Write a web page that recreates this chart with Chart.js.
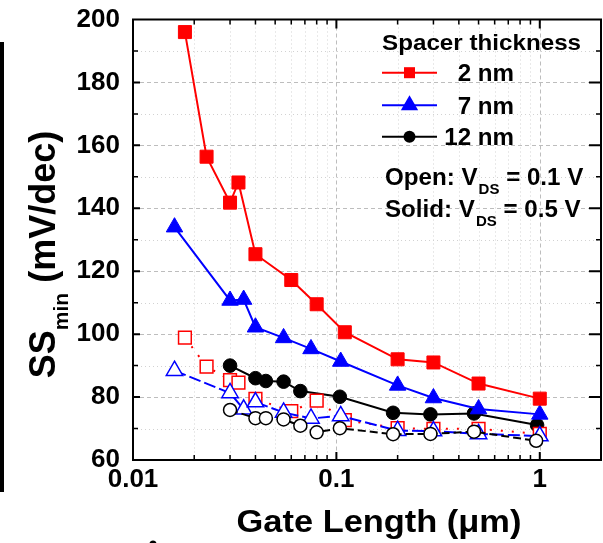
<!DOCTYPE html>
<html>
<head>
<meta charset="utf-8">
<script src="https://cdn.jsdelivr.net/npm/chart.js@4.4.0/dist/chart.umd.min.js"></script>
<style>
  html, body { margin: 0; padding: 0; background: #fff; overflow: hidden; }
  #wrap { position: relative; width: 612px; height: 543px; }
</style>
</head>
<body>
<div id="wrap"><canvas id="ssChart" width="612" height="543"></canvas></div>
<script>
// Gate length (um) and SSmin (mV/dec)

// spacer 2 nm
const len2 = [0.018, 0.023, 0.030, 0.033, 0.040, 0.060, 0.080, 0.110, 0.20, 0.30, 0.50, 1.0];
const ss2Solid = [196, 156.4, 141.8, 148.2, 125.4, 117.2, 109.5, 100.6, 92.0, 91.0, 84.3, 79.5];
const ss2Open = [98.9, 89.7, 85.4, 84.6, 79.4, 75.5, 78.9, 72.7, 70.1, 69.9, 69.9, 68.3];

// spacer 7 nm
const len7 = [0.016, 0.030, 0.035, 0.040, 0.055, 0.075, 0.105, 0.20, 0.30, 0.50, 1.0];
const ss7Solid = [134.0, 110.7, 111.0, 102.2, 98.8, 95.3, 91.3, 83.7, 79.7, 76.2, 74.5];
const ss7Open = [88.4, 81.3, 76.1, 78.4, 75.1, 73.2, 74.0, 69.3, 69.2, 68.3, 67.6];

// spacer 12 nm
const len12Solid = [0.030, 0.040, 0.045, 0.055, 0.0665, 0.104, 0.19, 0.29, 0.475, 0.97];
const ss12Solid = [90.0, 86.0, 85.1, 84.9, 81.9, 80.1, 75.0, 74.5, 74.8, 71.1];
const len12Open = [0.030, 0.040, 0.045, 0.055, 0.0665, 0.080, 0.104, 0.19, 0.29, 0.475, 0.96];
const ss12Open = [75.9, 73.3, 73.3, 72.9, 70.9, 68.8, 70.1, 68.2, 68.3, 69.0, 66.1];

// axes
const xMin = 0.01, xMax = 2;
const yMin = 60, yMax = 200;
const xTickLabels = [0.01, 0.1, 1];
const yTickLabels = [60, 80, 100, 120, 140, 160, 180, 200];

const legendLabels = ["2 nm", "7 nm", "12 nm"];

const FONT = '"Liberation Sans", Arial, sans-serif';
const RED = "#ff0000", BLUE = "#0000ff", BLACK = "#000000";

function pts(xs, ys) {
  return xs.map((x, i) => ({ x: x, y: ys[i] }));
}

function isDecade(v) {
  const l = Math.log10(v);
  return Math.abs(l - Math.round(l)) < 1e-6;
}

// draw text squeezed / stretched horizontally
function wideText(ctx, txt, x, y, size, sx, align) {
  ctx.save();
  ctx.font = "bold " + size + "px " + FONT;
  const w = ctx.measureText(txt).width * sx;
  const x0 = align === "right" ? x - w : align === "center" ? x - w / 2 : x;
  ctx.translate(x0, y);
  ctx.scale(sx, 1);
  ctx.textAlign = "left";
  ctx.textBaseline = "alphabetic";
  ctx.fillStyle = "#000";
  ctx.fillText(txt, 0, 0);
  ctx.restore();
  return w;
}

function marker(ctx, style, x, y, r, color) {
  ctx.save();
  ctx.fillStyle = color;
  ctx.beginPath();
  if (style === "rect") {
    const s = r * Math.SQRT1_2;
    ctx.rect(x - s, y - s, 2 * s, 2 * s);
  } else if (style === "triangle") {
    for (let k = 0; k < 3; k++) {
      const a = k * 2 * Math.PI / 3;
      const px = x + Math.sin(a) * r, py = y - Math.cos(a) * r;
      if (k === 0) ctx.moveTo(px, py); else ctx.lineTo(px, py);
    }
    ctx.closePath();
  } else {
    ctx.arc(x, y, r, 0, Math.PI * 2);
  }
  ctx.fill();
  ctx.restore();
}

// minor/major grid values for the log axis
function logGridValues() {
  const out = [];
  for (let d = xMin; d < xMax * 1.0001; d *= 10) {
    for (let m = 1; m <= 9; m++) {
      const v = +(m * d).toPrecision(3);
      if (v > xMin && v < xMax) out.push(v);
    }
  }
  return out;
}

const framePlugin = {
  id: "frame",
  beforeDatasetsDraw(chart) {
    const { ctx, chartArea: a, scales: { x, y } } = chart;
    ctx.save();
    ctx.lineWidth = 1;
    for (let v = yMin + 10; v < yMax; v += 10) {
      const py = Math.round(y.getPixelForValue(v)) + 0.5;
      const major = v % 20 === 0;
      ctx.strokeStyle = major ? "#bdbdbd" : "#d2d2d2";
      ctx.setLineDash(major ? [4, 3] : [1, 3]);
      ctx.beginPath(); ctx.moveTo(a.left, py); ctx.lineTo(a.right, py); ctx.stroke();
    }
    logGridValues().forEach(v => {
      const px = Math.round(x.getPixelForValue(v)) + 0.5;
      const major = isDecade(v);
      ctx.strokeStyle = major ? "#bdbdbd" : "#d2d2d2";
      ctx.setLineDash(major ? [4, 3] : [1, 3]);
      ctx.beginPath(); ctx.moveTo(px, a.top); ctx.lineTo(px, a.bottom); ctx.stroke();
    });
    ctx.restore();
  },
  afterDatasetsDraw(chart) {
    const { ctx, chartArea: a, scales: { x, y } } = chart;
    ctx.save();
    ctx.strokeStyle = "#000";
    ctx.setLineDash([]);

    // ticks
    for (let v = yMin + 10; v < yMax; v += 10) {
      const py = y.getPixelForValue(v);
      const major = v % 20 === 0;
      ctx.lineWidth = major ? 2 : 1.5;
      ctx.beginPath();
      ctx.moveTo(a.left, py); ctx.lineTo(a.left + (major ? 7 : 5), py);
      ctx.moveTo(a.right, py); ctx.lineTo(a.right - (major ? 12 : 5), py);
      ctx.stroke();
    }
    logGridValues().forEach(v => {
      const px = x.getPixelForValue(v);
      const major = isDecade(v);
      ctx.lineWidth = major ? 2 : 1.5;
      ctx.beginPath();
      ctx.moveTo(px, a.bottom); ctx.lineTo(px, a.bottom - (major ? 8 : 5));
      ctx.moveTo(px, a.top); ctx.lineTo(px, a.top + (major ? 9 : 5));
      ctx.stroke();
    });

    // box
    ctx.lineWidth = 2;
    ctx.strokeRect(a.left, a.top, a.right - a.left, a.bottom - a.top);
    ctx.restore();
  },
  afterDraw(chart) {
    const ctx = chart.ctx;
    ctx.save();

    // legend
    wideText(ctx, "Spacer thickness", 382, 50, 22, 1.1, "left");
    const rows = [
      { y: 72.7, c: RED, s: "rect", r: 7.8 },
      { y: 105.3, c: BLUE, s: "triangle", r: 10 },
      { y: 136.7, c: BLACK, s: "circle", r: 6 }
    ];
    rows.forEach((row, i) => {
      ctx.strokeStyle = row.c;
      ctx.lineWidth = 2;
      ctx.beginPath(); ctx.moveTo(382, row.y); ctx.lineTo(437, row.y); ctx.stroke();
      marker(ctx, row.s, 409.5, row.y, row.r, row.c);
      wideText(ctx, legendLabels[i], 514, row.y + 8.5, 23, 1.05, "right");
    });

    // V_DS notes
    let px = 385;
    px += wideText(ctx, "Open: V", px, 185, 23, 1.05, "left");
    px += wideText(ctx, "DS", px + 1, 193.5, 15, 1.0, "left") + 1;
    wideText(ctx, " = 0.1 V", px, 185, 23, 1.05, "left");
    px = 385;
    px += wideText(ctx, "Solid: V", px, 217, 23, 1.05, "left");
    px += wideText(ctx, "DS", px + 1, 225.5, 15, 1.0, "left") + 1;
    wideText(ctx, " = 0.5 V", px, 217, 23, 1.05, "left");

    // x title
    wideText(ctx, "Gate Length (\u03bcm)", 379, 531.5, 31, 1.11, "center");

    // y title with subscript
    ctx.translate(55, 254.5);
    ctx.rotate(-Math.PI / 2);
    ctx.fillStyle = "#000";
    ctx.textBaseline = "alphabetic";
    const big = "bold 36px " + FONT, small = "bold 21px " + FONT;
    ctx.font = big;
    const wSS = ctx.measureText("SS").width;
    const wRest = ctx.measureText(" (mV/dec)").width;
    ctx.font = small;
    const wMin = ctx.measureText("min").width;
    const x0 = -(wSS + wMin + wRest) / 2;
    ctx.font = big; ctx.fillText("SS", x0, 0);
    ctx.font = small; ctx.fillText("min", x0 + wSS, 13);
    ctx.font = big; ctx.fillText(" (mV/dec)", x0 + wSS + wMin, 0);
    ctx.restore();

    // edge of the neighbouring panel
    ctx.save();
    ctx.fillStyle = "#000";
    ctx.fillRect(0, 42, 4, 450);
    ctx.beginPath(); ctx.arc(153, 544, 3.5, 0, Math.PI * 2); ctx.fill();
    ctx.restore();
  }
};

function solidSet(label, data, color, style, r, order) {
  return {
    label: label, data: data, order: order,
    borderColor: color, backgroundColor: color,
    borderWidth: 2, pointStyle: style, pointRadius: r, pointHoverRadius: r,
    pointBorderWidth: 1, pointBackgroundColor: color, pointBorderColor: color
  };
}

function openSet(label, data, color, style, r, dash, order) {
  return {
    label: label, data: data, order: order,
    borderColor: color, backgroundColor: "#fff", borderDash: dash,
    borderWidth: 2, pointStyle: style, pointRadius: r, pointHoverRadius: r,
    pointBorderWidth: 1.5, pointBackgroundColor: "#fff", pointBorderColor: color
  };
}

const ctx = document.getElementById("ssChart").getContext("2d");

new Chart(ctx, {
  type: "line",
  data: {
    datasets: [
      openSet("12 nm, 0.1 V", pts(len12Open, ss12Open), BLACK, "circle", 6.5, [8, 4], 1),
      openSet("7 nm, 0.1 V", pts(len7, ss7Open), BLUE, "triangle", 9.5, [12, 4], 2),
      openSet("2 nm, 0.1 V", pts(len2, ss2Open), RED, "rect", 9, [2, 9], 3),
      solidSet("2 nm, 0.5 V", pts(len2, ss2Solid), RED, "rect", 9.2, 4),
      solidSet("7 nm, 0.5 V", pts(len7, ss7Solid), BLUE, "triangle", 9.5, 5),
      solidSet("12 nm, 0.5 V", pts(len12Solid, ss12Solid), BLACK, "circle", 6.8, 6)
    ]
  },
  options: {
    responsive: false,
    animation: false,
    events: [],
    layout: { padding: { top: 19.5, right: 7, bottom: 0, left: 0 } },
    elements: { line: { tension: 0 } },
    plugins: {
      legend: { display: false },
      tooltip: { enabled: false }
    },
    scales: {
      x: {
        type: "logarithmic",
        min: xMin,
        max: xMax,
        grid: { display: false, drawTicks: false },
        border: { display: false },
        ticks: {
          autoSkip: false,
          maxRotation: 0,
          minRotation: 0,
          padding: 4,
          color: "#000",
          font: { family: FONT, size: 26, weight: "bold" },
          callback: v => xTickLabels.some(t => Math.abs(t - v) < 1e-9) ? String(v) : ""
        },
        afterFit: s => {
          s.height = 83;
          s.paddingLeft = 0;
          s.paddingRight = 0;
        }
      },
      y: {
        type: "linear",
        min: yMin,
        max: yMax,
        grid: { display: false, drawTicks: false },
        border: { display: false },
        ticks: {
          stepSize: 10,
          padding: 13,
          color: "#000",
          font: { family: FONT, size: 26, weight: "bold" },
          callback: v => yTickLabels.includes(v) ? String(v) : ""
        },
        afterFit: s => {
          s.width = 133;
          s.paddingTop = 0;
          s.paddingBottom = 0;
        }
      }
    }
  },
  plugins: [framePlugin]
});
</script>
</body>
</html>
